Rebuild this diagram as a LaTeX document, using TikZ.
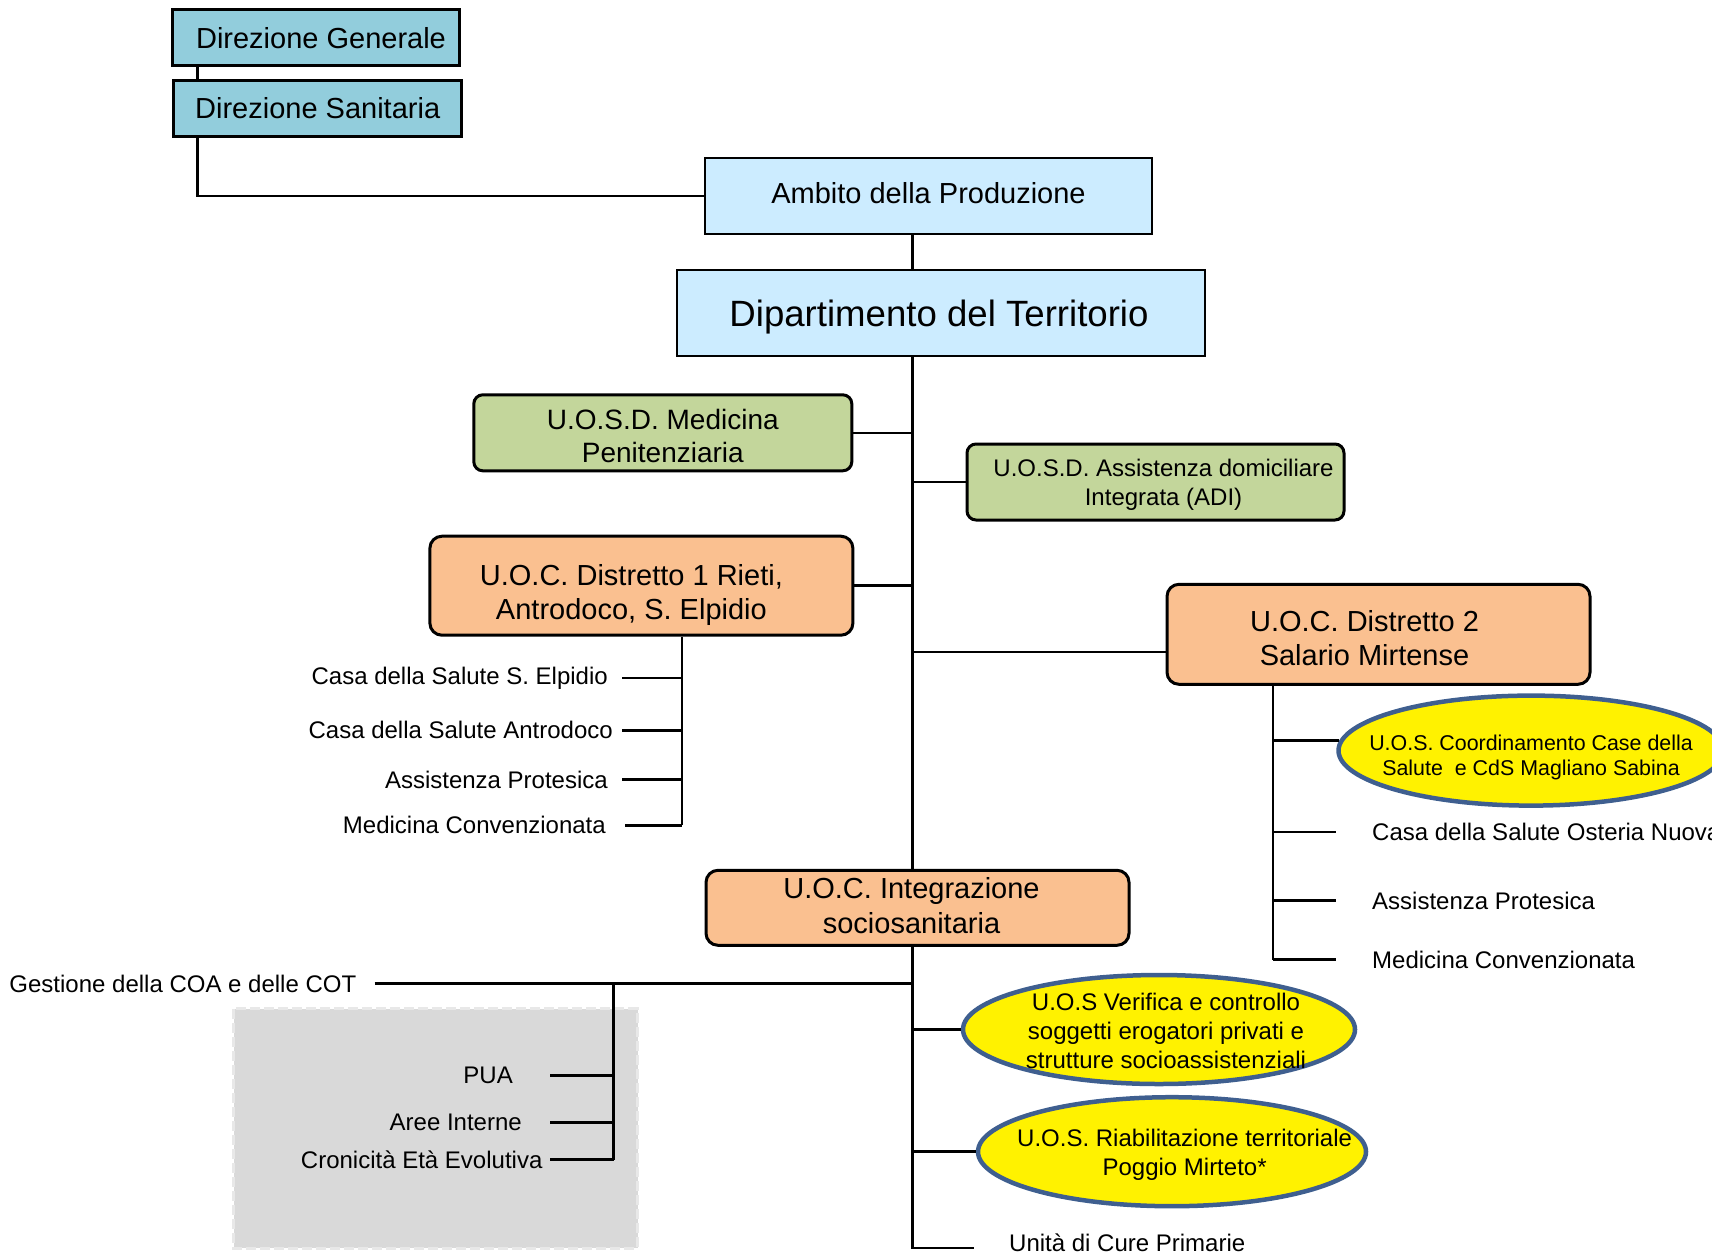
\documentclass[tikz,border=0pt]{standalone}
\usepackage{fontspec}
\setmainfont{Liberation Sans}
\usetikzlibrary{shapes}

\definecolor{dirblue}{HTML}{92CDDC}
\definecolor{prodblue}{HTML}{CCECFF}
\definecolor{uosdgreen}{HTML}{C3D69B}
\definecolor{uocorange}{HTML}{FAC090}
\definecolor{uosedge}{HTML}{3F5F8F}
\definecolor{panelgrey}{HTML}{D9D9D9}
\definecolor{paneledge}{HTML}{E8E8E8}

\newcommand{\ptsize}[2]{\fontsize{#1}{#2}\selectfont}

\begin{document}
\begin{tikzpicture}[x=1pt,y=-1pt]
    \tikzstyle{dirbox} = [draw, line width=3pt, fill=dirblue, inner sep=0pt, font=\ptsize{29}{34}]
    \tikzstyle{prodbox} = [draw, line width=2.5pt, fill=prodblue, inner sep=0pt]
    \tikzstyle{uosdbox} = [draw, line width=3pt, fill=uosdgreen, rounded corners=9pt, inner sep=0pt]
    \tikzstyle{uocbox} = [draw, line width=3pt, fill=uocorange, rounded corners=12pt, inner sep=0pt]
    \tikzstyle{boxtext} = [align=center, inner sep=0pt, font=\ptsize{29}{34}]
    \tikzstyle{uosell} = [ellipse, draw=uosedge, line width=4.5pt, fill=yellow, inner sep=0pt]
    \tikzstyle{uostext} = [align=center, inner sep=0pt, font=\ptsize{24}{29}]
    \tikzstyle{leafl} = [anchor=east, inner xsep=14pt, font=\ptsize{24}{29}]
    \tikzstyle{leafr} = [anchor=west, inner xsep=36pt, font=\ptsize{24}{29}]
    \tikzstyle{link} = [line width=2.5pt]

    \clip (0,0) rectangle (1712,1255);

    % grey panel behind the COA/COT items
    \draw[paneledge, dashed, dash pattern=on 10pt off 4pt, line width=3pt, fill=panelgrey]
        (233.6,1008.8) rectangle (637.6,1248);

    % x positions of the vertical lines
    \coordinate (dirx) at (197.6,0);
    \coordinate (spine) at (912.7,0);
    \coordinate (d1x) at (682,0);
    \coordinate (d2x) at (1273,0);
    \coordinate (coax) at (613.6,0);
    \coordinate (coabr) at (550,0);

    % direction
    \node[dirbox, minimum width=287pt, minimum height=56pt,
        label={[boxtext, xshift=5pt]center:Direzione Generale}] (dirgen) at (316,37.7) {};
    \node[dirbox, minimum width=288pt, minimum height=56pt] (dirsan) at (317.7,108.6) {Direzione Sanitaria};
    \node[prodbox, minimum width=447pt, minimum height=76pt,
        label={[boxtext, yshift=3pt]center:Ambito della Produzione}] (ambito) at (928.5,195.8) {};
    \node[prodbox, minimum width=528pt, minimum height=86pt,
        label={[boxtext, font=\ptsize{36.6}{40}, xshift=-2pt, yshift=-4pt]center:Dipartimento del Territorio}] (dipart) at (941,312.8) {};

    % units of the department
    \node[uosdbox, minimum width=378pt, minimum height=76pt,
        label={[boxtext, font=\ptsize{28}{33}, yshift=-3pt]center:{U.O.S.D. Medicina\\Penitenziaria}}] (medpen) at (662.8,432.8) {};
    \node[uosdbox, minimum width=377pt, minimum height=76pt,
        label={[boxtext, font=\ptsize{24}{29.5}, xshift=8pt, yshift=-3pt]center:{U.O.S.D. Assistenza domiciliare\\Integrata (ADI)}}] (adi) at (1155.5,482) {};
    \node[uocbox, minimum width=423pt, minimum height=99pt,
        label={[boxtext, xshift=-10pt, yshift=-9pt]center:{U.O.C. Distretto 1 Rieti,\\Antrodoco, S. Elpidio}}] (distr1) at (641.4,585.7) {};
    \node[uocbox, minimum width=423pt, minimum height=100pt,
        label={[boxtext, xshift=-14pt, yshift=-4pt]center:{U.O.C. Distretto 2\\Salario Mirtense}}] (distr2) at (1378.5,634.3) {};
    \node[uocbox, minimum width=423pt, minimum height=75pt,
        label={[boxtext, font=\ptsize{29}{35}, xshift=-6pt, yshift=2pt]center:{U.O.C. Integrazione\\sociosanitaria}}] (integr) at (917.5,907.8) {};

    % distretto 1
    \node[leafl] (d1elp) at (622,678) {Casa della Salute S. Elpidio};
    \node[leafl, inner xsep=9pt] (d1antr) at (622,730.4) {Casa della Salute Antrodoco};
    \node[leafl] (d1prot) at (622,779.5) {Assistenza Protesica};
    \node[leafl, inner xsep=19pt] (d1conv) at (625,825.4) {Medicina Convenzionata};

    % distretto 2
    \node[uosell, minimum width=385pt, minimum height=110pt] (coord) at (1531,750.6) {};
    \node[uostext, font=\ptsize{21.4}{25}] (coordtxt) at (1531,757) {U.O.S. Coordinamento Case della\\Salute~ e CdS Magliano Sabina};
    \node[leafr] (d2oster) at (1336,832) {Casa della Salute Osteria Nuova};
    \node[leafr] (d2prot) at (1336,900.7) {Assistenza Protesica};
    \node[leafr] (d2conv) at (1336,959.7) {Medicina Convenzionata};

    % integrazione sociosanitaria
    \node[leafl, inner xsep=18pt] (gest) at (374.5,983.7) {Gestione della COA e delle COT};
    \node[leafl, inner xsep=0pt] (pua) at (513,1075.4) {PUA};
    \node[leafl, inner xsep=0pt] (aree) at (522,1122.4) {Aree Interne};
    \node[leafl, inner xsep=0pt] (crono) at (542.6,1159.5) {Cronicità Età Evolutiva};
    \node[uosell, minimum width=392pt, minimum height=109pt] (verif) at (1159,1029.5) {};
    \node[uostext] (veriftxt) at (1166,1031) {U.O.S Verifica e controllo\\soggetti erogatori privati e\\strutture socioassistenziali};
    \node[uosell, minimum width=388pt, minimum height=109pt] (riab) at (1172,1151.7) {};
    \node[uostext] (riabtxt) at (1184.6,1154.6) {U.O.S. Riabilitazione territoriale\\Poggio Mirteto*};
    \node[leafr, inner xsep=35pt] (ucp) at (974,1243) {Unità di Cure Primarie};

    % connectors
    \draw[link] (dirgen.south -| dirx) -- (dirsan.north -| dirx);
    \draw[link] (dirsan.south -| dirx) |- (ambito.west);
    \draw[link] (ambito.south -| spine) -- (dipart.north -| spine);
    \draw[link] (dipart.south -| spine) -- (integr.north -| spine);
    \draw[link] (integr.south -| spine) |- ([yshift=-5pt]ucp.west);
    \draw[link] (medpen.east) -- (medpen.east -| spine);
    \draw[link] (adi.west) -- (adi.west -| spine);
    \draw[link] (distr1.east) -- (distr1.east -| spine);
    \draw[link] ([yshift=-17.5pt]distr2.west) -- ([yshift=-17.5pt]distr2.west -| spine);

    \draw[link] (distr1.south -| d1x) -- (d1conv.east -| d1x);
    \foreach \leaf in {d1elp,d1antr,d1prot,d1conv}
        \draw[link] (\leaf.east) -- (\leaf.east -| d1x);

    \draw[link] (distr2.south -| d2x) -- (d2conv.west -| d2x);
    \draw[link] (coord.177.5 -| d2x) -- (coord.177.5);
    \foreach \leaf in {d2oster,d2prot,d2conv}
        \draw[link] (\leaf.west -| d2x) -- (\leaf.west);

    \draw[link] (gest.east) -- (gest.east -| spine);
    \draw[link] (gest.east -| coax) -- (crono.east -| coax);
    \foreach \leaf in {pua,aree,crono}
        \draw[link] (\leaf.east -| coabr) -- (\leaf.east -| coax);
    \draw[link] (verif.west) -- (verif.west -| spine);
    \draw[link] (riab.west) -- (riab.west -| spine);
\end{tikzpicture}
\end{document}
